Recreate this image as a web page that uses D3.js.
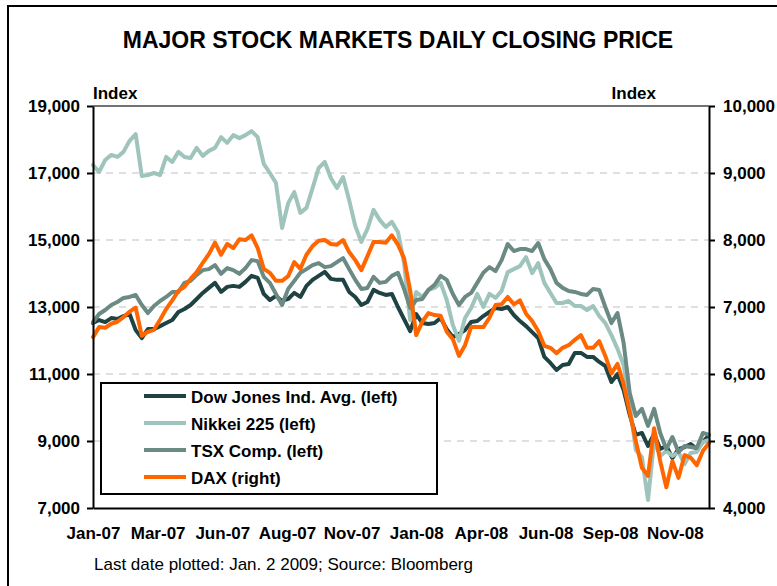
<!DOCTYPE html>
<html>
<head>
<meta charset="utf-8">
<script src="https://cdn.jsdelivr.net/npm/d3@7"></script>
<style>
  html, body { margin: 0; padding: 0; background: #fff; }
  svg { display: block; font-family: "Liberation Sans", Arial, sans-serif; }
</style>
</head>
<body>
<svg id="chart" width="777" height="586"></svg>
<script>
// ---- Data (weekly samples, every 5 trading days from Jan 2 2007 to Jan 2 2009) ----
const dayStep = 5;
const labelEvery = 53; // trading days between category labels
const xLabels = ['Jan-07','Mar-07','Jun-07','Aug-07','Nov-07','Jan-08','Apr-08','Jun-08','Sep-08','Nov-08'];
const leftTicks = [7000, 9000, 11000, 13000, 15000, 17000, 19000];
const rightTicks = [4000, 5000, 6000, 7000, 8000, 9000, 10000];
const seriesNames = ['Dow Jones Ind. Avg. (left)', 'Nikkei 225 (left)', 'TSX Comp. (left)', 'DAX (right)'];

const dow = [12520,12610,12550,12670,12640,12730,12790,12310,12070,12340,
 12340,12430,12520,12610,12850,12940,13060,13240,13420,13570,
 13720,13450,13600,13630,13600,13750,13930,13870,13390,13210,
 13330,13180,13240,13420,13300,13630,13810,13930,14050,13840,
 13810,13810,13450,13300,13060,13150,13510,13420,13360,13390,
 13000,12640,12280,12790,12520,12490,12520,12670,12340,12100,
 12190,12310,12550,12580,12730,12850,12970,12940,13000,12760,
 12580,12430,12250,12070,11510,11330,11120,11270,11300,11630,
 11630,11510,11510,11360,11240,10760,11000,10520,9780,9180,
 9240,8850,9210,8760,8850,8490,8760,8820,8910,8760,
 8970,9180];

const nikkei = [17240,17030,17390,17540,17480,17630,17960,18160,16910,16940,
 17000,16940,17480,17330,17630,17480,17450,17750,17510,17660,
 17750,18070,17900,18130,18040,18130,18250,18070,17270,17000,
 16700,15360,16100,16430,15810,15960,16550,17150,17330,16850,
 16550,16880,16190,15420,14940,15330,15900,15600,15390,15540,
 15240,14310,12610,13450,13300,13510,13570,13720,13210,12460,
 11990,12670,12970,13390,13000,13390,13270,13480,14040,14130,
 14220,14490,14010,14310,13720,13420,13120,13120,13180,13030,
 13030,12910,13030,12730,12520,12160,11750,11270,10070,8730,
 8520,7240,9000,8550,8700,8550,8670,8310,8640,8670,
 8970,9030];

const tsx = [12550,12790,12910,13060,13150,13270,13300,13360,13060,12820,
 13030,13180,13300,13450,13450,13720,13780,13960,14100,14130,
 14250,13990,14160,14100,13990,14160,14400,14370,13900,13720,
 13390,13060,13540,13780,14020,14130,14250,14310,14190,14220,
 14340,14460,14130,13810,13540,13570,13900,13720,13750,13930,
 14020,13540,12970,13210,13240,13510,13660,13930,13810,13390,
 13060,13300,13420,13720,14020,14190,14070,14400,14880,14670,
 14730,14730,14670,14910,14430,14130,13720,13570,13480,13450,
 13390,13360,13540,13510,13000,12520,12820,11930,10430,9750,
 9960,9450,9960,9240,8760,9120,8670,8850,8820,8790,
 9240,9180];

const dax = [6550,6700,6690,6750,6780,6850,6930,6990,6570,6630,
 6660,6810,6970,7100,7240,7300,7420,7520,7660,7790,
 7960,7780,7940,7880,8010,8000,8070,7880,7570,7510,
 7390,7390,7460,7670,7570,7780,7910,7990,8000,7940,
 7930,8000,7820,7700,7550,7760,7970,7970,7960,8070,
 7930,7730,7250,6580,6780,6910,6880,6870,6630,6520,
 6270,6430,6700,6700,6700,6840,7030,7040,7150,7040,
 7100,6900,6790,6640,6420,6390,6310,6390,6430,6510,
 6580,6390,6390,6490,6270,6010,6150,5850,5430,5000,
 4600,4480,5190,4700,4310,4700,4450,4790,4750,4640,
 4850,4970];

// ---- Layout ----
const W = 777, H = 586;
const M = { left: 93, right: 68, top: 106, bottom: 78 };
const pw = W - M.left - M.right, ph = H - M.top - M.bottom;
const colors = ['#1f4242', '#9fc4bc', '#6b8a84', '#ff6600'];

const svg = d3.select('#chart');

// outer frame
svg.append('rect').attr('x', 8).attr('y', 6).attr('width', 800).attr('height', 600)
  .attr('fill', 'none').attr('stroke', '#000').attr('stroke-width', 2);

// title
svg.append('text').attr('x', 398).attr('y', 48).attr('text-anchor', 'middle')
  .attr('font-size', 23).attr('font-weight', 'bold').attr('fill', '#000')
  .text('MAJOR STOCK MARKETS DAILY CLOSING PRICE');

const nDays = (dow.length - 1) * dayStep;
const x = d3.scaleLinear().domain([0, nDays]).range([0, pw]);
const yL = d3.scaleLinear().domain([7000, 19000]).range([ph, 0]);
const yR = d3.scaleLinear().domain([4000, 10000]).range([ph, 0]);

const g = svg.append('g').attr('transform', `translate(${M.left},${M.top})`);

// gridlines
g.append('g').selectAll('line').data(leftTicks.filter(v => v > 7000 && v < 19000)).join('line')
  .attr('x1', 0).attr('x2', pw).attr('y1', d => yL(d)).attr('y2', d => yL(d))
  .attr('stroke', '#c0c0c0').attr('stroke-width', 1.2).attr('stroke-dasharray', '7,6');

// top border
g.append('line').attr('x1', 0).attr('x2', pw).attr('y1', 0).attr('y2', 0)
  .attr('stroke', '#444').attr('stroke-width', 1.5);

// series lines
const seriesData = [
  { vals: dow, y: yL }, { vals: nikkei, y: yL }, { vals: tsx, y: yL }, { vals: dax, y: yR }
];
seriesData.forEach((s, k) => {
  const line = d3.line().x((d, i) => x(i * dayStep)).y(d => s.y(d));
  g.append('path').datum(s.vals).attr('d', line).attr('fill', 'none')
    .attr('stroke', colors[k]).attr('stroke-width', 4)
    .attr('stroke-linejoin', 'round').attr('stroke-linecap', 'round');
});

// axes
const fmt = d3.format(',');
const axL = g.append('g').call(d3.axisLeft(yL).tickValues(leftTicks).tickFormat(fmt).tickSize(6).tickSizeOuter(0).tickPadding(7));
const axR = g.append('g').attr('transform', `translate(${pw},0)`)
  .call(d3.axisRight(yR).tickValues(rightTicks).tickFormat(fmt).tickSize(6).tickSizeOuter(0).tickPadding(8));
const axB = g.append('g').attr('transform', `translate(0,${ph})`)
  .call(d3.axisBottom(x).tickValues(xLabels.map((d, i) => i * labelEvery))
    .tickFormat((d, i) => xLabels[i]).tickSize(0).tickSizeOuter(0));
axB.selectAll('text').attr('y', 31).attr('dy', 0);

[axL, axR, axB].forEach(a => {
  a.select('.domain').attr('stroke', '#000').attr('stroke-width', 2);
  a.selectAll('.tick line').attr('stroke', '#000').attr('stroke-width', 2);
  a.selectAll('text').attr('font-size', 17).attr('font-weight', 'bold')
    .attr('fill', '#000').attr('font-family', '"Liberation Sans", Arial, sans-serif');
});

// Index labels
svg.append('text').attr('x', 93).attr('y', 99).attr('font-size', 17).attr('font-weight', 'bold').text('Index');
svg.append('text').attr('x', 656).attr('y', 99).attr('text-anchor', 'end').attr('font-size', 17).attr('font-weight', 'bold').text('Index');

// legend
const lg = svg.append('g');
lg.append('rect').attr('x', 101).attr('y', 383).attr('width', 336).attr('height', 111)
  .attr('fill', '#fff').attr('stroke', '#000').attr('stroke-width', 2);
seriesNames.forEach((nm, k) => {
  const yy = 396 + k * 27;
  lg.append('line').attr('x1', 144).attr('x2', 186).attr('y1', yy).attr('y2', yy)
    .attr('stroke', colors[k]).attr('stroke-width', 4);
  lg.append('text').attr('x', 191).attr('y', yy + 6.5).attr('font-size', 17)
    .attr('font-weight', 'bold').text(nm);
});

// source
svg.append('text').attr('x', 94).attr('y', 570).attr('font-size', 17).attr('fill', '#000')
  .text('Last date plotted: Jan. 2 2009; Source: Bloomberg');
</script>
</body>
</html>
